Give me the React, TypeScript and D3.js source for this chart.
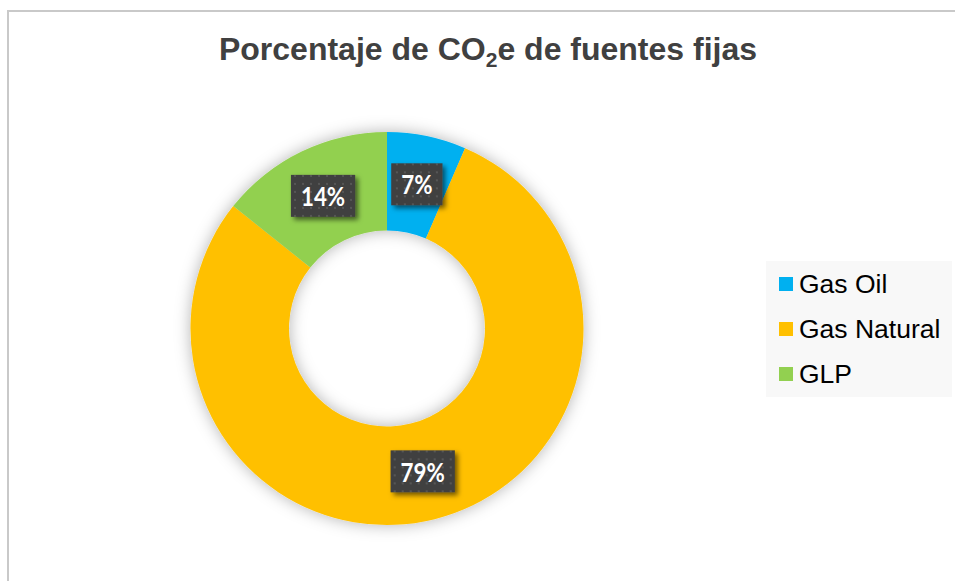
import React, { useEffect, useRef } from "react";
import * as d3 from "d3";

const categories = ["Gas Oil", "Gas Natural", "GLP"];
const values = [6.5, 79.2, 14.3];
const colors = ["#00B0F0", "#FFC000", "#92D050"];
const titleMain = "Porcentaje de CO";
const titleSub = "2";
const titleEnd = "e de fuentes fijas";

const W = 955;
const H = 581;

export default function App() {
  const ref = useRef<SVGSVGElement | null>(null);

  useEffect(() => {
    const svg = d3.select(ref.current);
    svg.selectAll("*").remove();

    const defs = svg.append("defs");
    const ds = defs.append("filter").attr("id", "donutShadow")
      .attr("x", "-30%").attr("y", "-30%").attr("width", "160%").attr("height", "160%");
    ds.append("feDropShadow").attr("dx", 0).attr("dy", 0).attr("stdDeviation", 8)
      .attr("flood-color", "#000").attr("flood-opacity", 0.3);

    const ls = defs.append("filter").attr("id", "labelShadow")
      .attr("x", "-30%").attr("y", "-30%").attr("width", "160%").attr("height", "160%");
    ls.append("feDropShadow").attr("dx", 3).attr("dy", 3).attr("stdDeviation", 2.5)
      .attr("flood-color", "#000").attr("flood-opacity", 0.55);

    const pat = defs.append("pattern").attr("id", "dots")
      .attr("patternUnits", "userSpaceOnUse").attr("width", 8).attr("height", 8);
    pat.append("rect").attr("width", 8).attr("height", 8).attr("fill", "#404040");
    pat.append("rect").attr("x", 3).attr("y", 3).attr("width", 2).attr("height", 2).attr("fill", "#575757");

    // frame
    svg.append("rect").attr("x", 0).attr("y", 0).attr("width", W).attr("height", H).attr("fill", "#fff");
    svg.append("rect").attr("x", 8).attr("y", 11).attr("width", 980).attr("height", 620)
      .attr("fill", "#fff").attr("stroke", "#C9C9C9").attr("stroke-width", 2);

    // title
    const title = svg.append("text").attr("x", 488).attr("y", 60)
      .attr("text-anchor", "middle")
      .attr("font-family", "Liberation Sans, Arial, sans-serif")
      .attr("font-weight", "bold").attr("font-size", 32).attr("fill", "#404040");
    title.append("tspan").text(titleMain);
    title.append("tspan").attr("font-size", 21).attr("dy", 7).text(titleSub);
    title.append("tspan").attr("dy", -7).text(titleEnd);

    // donut
    const cx = 387, cy = 328.5, rOuter = 196.5, rInner = 98;
    const pie = d3.pie<number>().sort(null).value((d) => d);
    const arcs = pie(values);
    const arc = d3.arc<d3.PieArcDatum<number>>().innerRadius(rInner).outerRadius(rOuter);
    const g = svg.append("g").attr("transform", `translate(${cx},${cy})`);
    const ring = g.append("g").attr("filter", "url(#donutShadow)");
    ring.selectAll("path").data(arcs).enter().append("path")
      .attr("d", arc as any)
      .attr("fill", (_, i) => colors[i]);

    const total = d3.sum(values);
    const labelArc = d3.arc<d3.PieArcDatum<number>>()
      .innerRadius((rInner + rOuter) / 2).outerRadius((rInner + rOuter) / 2);
    const sx = 0.86;
    arcs.forEach((a, i) => {
      const [lx, ly] = labelArc.centroid(a);
      const lg = g.append("g").attr("transform", `translate(${lx},${ly})`);
      const box = lg.append("rect").attr("fill", "url(#dots)").attr("filter", "url(#labelShadow)");
      const t = lg.append("text")
        .attr("transform", `scale(${sx},1)`)
        .attr("text-anchor", "middle").attr("dominant-baseline", "central")
        .attr("font-family", "Lato, 'Open Sans', sans-serif").attr("font-weight", "bold")
        .attr("font-size", 26).attr("fill", "#fff")
        .text(Math.round((values[i] / total) * 100) + "%");
      const bb = (t.node() as SVGTextElement).getBBox();
      const bw = bb.width * sx + 20, bh = 42;
      box.attr("x", -bw / 2).attr("y", -bh / 2).attr("width", bw).attr("height", bh);
    });

    // legend
    svg.append("rect").attr("x", 766).attr("y", 261).attr("width", 186).attr("height", 136).attr("fill", "#F8F8F8");
    const legendY = d3.scalePoint<string>().domain(categories).range([284, 374]);
    categories.forEach((c, i) => {
      const y = legendY(c) as number;
      svg.append("rect").attr("x", 779).attr("y", y - 7).attr("width", 14).attr("height", 14).attr("fill", colors[i]);
      svg.append("text").attr("x", 799).attr("y", y).attr("dominant-baseline", "central")
        .attr("font-family", "Liberation Sans, Arial, sans-serif").attr("font-size", 26.5)
        .attr("fill", "#000").text(c);
    });
  }, []);

  return (
    <svg ref={ref} width={W} height={H} style={{ position: "absolute", left: 0, top: 0, display: "block" }} />
  );
}
